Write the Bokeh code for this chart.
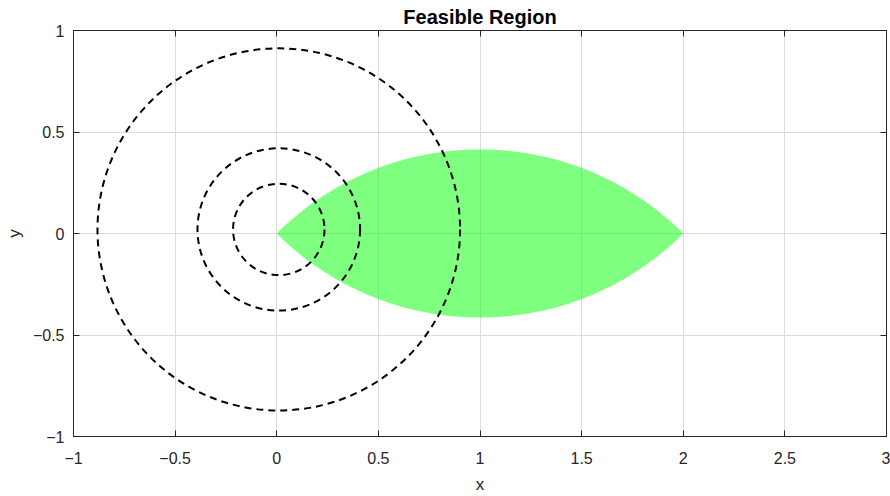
import numpy as np
from bokeh.plotting import figure
from bokeh.models import LinearAxis, FixedTicker, Range1d, ColumnDataSource
from bokeh.embed import file_html
from bokeh.resources import INLINE

# ---- data ----
x_ticks = [-1, -0.5, 0, 0.5, 1, 1.5, 2, 2.5, 3]
x_tick_labels = ["\u22121", "\u22120.5", "0", "0.5", "1", "1.5", "2", "2.5", "3"]
y_ticks = [-1, -0.5, 0, 0.5, 1]
y_tick_labels = ["\u22121", "\u22120.5", "0", "0.5", "1"]

# dashed contour circles (center x, center y, radius)
contour_cx = [0.01, 0.01, 0.01]
contour_cy = [0.02, 0.02, 0.02]
contour_r = [0.225, 0.40, 0.892]

# feasible region: intersection of two discs (center x, center y, radius)
disc_cx = [1.0, 1.0]
disc_cy = [-1.0, 1.0]
disc_r = [np.sqrt(2.0), np.sqrt(2.0)]

# ---- build lens boundary from the two discs ----
n = 120
a_up = np.linspace(np.deg2rad(135), np.deg2rad(45), n)      # arc of disc centered below
a_lo = np.linspace(np.deg2rad(-45), np.deg2rad(-135), n)    # arc of disc centered above
lens_x = np.concatenate([disc_cx[0] + disc_r[0] * np.cos(a_up),
                         disc_cx[1] + disc_r[1] * np.cos(a_lo)])
lens_y = np.concatenate([disc_cy[0] + disc_r[0] * np.sin(a_up),
                         disc_cy[1] + disc_r[1] * np.sin(a_lo)])

FONT = "Liberation Sans"
AX = "#262626"

p = figure(width=890, height=496,
           x_range=Range1d(-1, 3), y_range=Range1d(-1, 1),
           output_backend="svg", toolbar_location=None,
           min_border_left=73, min_border_right=4,
           min_border_top=30, min_border_bottom=59,
           title="Feasible Region")

p.title.text_font = FONT
p.title.text_font_size = "20px"
p.title.text_font_style = "bold"
p.title.text_color = "#000000"
p.title.align = "center"
p.title.standoff = 5

p.background_fill_color = "white"
p.border_fill_color = "white"
p.outline_line_color = AX
p.outline_line_width = 1
p.outline_line_alpha = 1

p.patch(lens_x, lens_y, fill_color="#00ff00", fill_alpha=0.5, line_color=None)

src = ColumnDataSource(dict(x=contour_cx, y=contour_cy,
                            w=[2 * r for r in contour_r], h=[2 * r for r in contour_r]))
p.ellipse(x="x", y="y", width="w", height="h", source=src,
          fill_color=None, line_color="black", line_width=2, line_dash="7 5")

xt = FixedTicker(ticks=x_ticks, minor_ticks=[])
yt = FixedTicker(ticks=y_ticks, minor_ticks=[])

for ax, ticks, labels in ((p.xaxis[0], x_ticks, x_tick_labels), (p.yaxis[0], y_ticks, y_tick_labels)):
    ax.ticker = FixedTicker(ticks=ticks, minor_ticks=[])
    ax.major_label_overrides = {t: l for t, l in zip(ticks, labels)}
    ax.major_tick_in = 6
    ax.major_tick_out = 0
    ax.minor_tick_line_color = None
    ax.axis_line_color = AX
    ax.major_tick_line_color = AX
    ax.major_label_text_font = FONT
    ax.major_label_text_font_size = "16px"
    ax.major_label_text_color = AX
    ax.axis_label_text_font = FONT
    ax.axis_label_text_font_size = "17px"
    ax.axis_label_text_font_style = "normal"
    ax.axis_label_text_color = AX

p.xaxis[0].axis_label = "x"
p.yaxis[0].axis_label = "y"
p.xaxis[0].major_label_standoff = 15
p.xaxis[0].axis_label_standoff = 8
p.yaxis[0].major_label_standoff = 9
p.yaxis[0].axis_label_standoff = 6

# mirrored ticks on top and right (box on), without labels
for loc, ticks in (("above", x_ticks), ("right", y_ticks)):
    ax = LinearAxis(ticker=FixedTicker(ticks=ticks, minor_ticks=[]))
    ax.major_label_overrides = {t: "" for t in ticks}
    ax.major_tick_in = 6
    ax.major_tick_out = 0
    ax.minor_tick_line_color = None
    ax.axis_line_color = AX
    ax.major_tick_line_color = AX
    ax.major_label_text_color = None
    ax.major_label_text_font_size = "1px"
    ax.major_label_standoff = 0
    p.add_layout(ax, loc)

p.xgrid.ticker = xt
p.ygrid.ticker = yt
p.grid.grid_line_color = "#dcdcdc"
p.grid.grid_line_width = 1

open("out.html", "w").write(file_html(p, INLINE))
